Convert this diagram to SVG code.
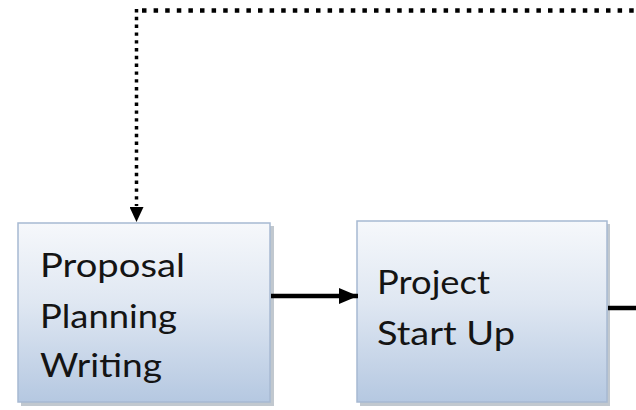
<svg xmlns="http://www.w3.org/2000/svg" width="636" height="410" viewBox="0 0 636 410">
<style>
.box{fill:url(#g);stroke:#a7b9d2;stroke-width:1.5}
.sh{fill:#8e9aa8;opacity:0.55}
.t{font-family:Lato,"Open Sans","DejaVu Sans",sans-serif;font-size:33px;fill:#141414}
.solid{stroke:#000;stroke-width:4.5;fill:none}
</style>
<defs>
<linearGradient id="g" x1="0" y1="0" x2="0" y2="1">
<stop offset="0" stop-color="#f6f8fb"/>
<stop offset="0.45" stop-color="#dfe7f2"/>
<stop offset="1" stop-color="#b5c8e1"/>
</linearGradient>
<marker id="ah" viewBox="0 0 10 10" refX="10" refY="5" markerWidth="19" markerHeight="16" markerUnits="userSpaceOnUse" orient="auto" preserveAspectRatio="none">
<path d="M0,0 L10,5 L0,10 z" fill="#000"/>
</marker>
<marker id="ahd" viewBox="0 0 10 10" refX="10" refY="5" markerWidth="15" markerHeight="14" markerUnits="userSpaceOnUse" orient="auto" preserveAspectRatio="none">
<path d="M0,0 L10,5 L0,10 z" fill="#000"/>
</marker>
</defs>
<rect width="636" height="410" fill="#fff"/>
<g id="n1">
<rect class="sh" x="21" y="226" width="253" height="180"/>
<rect class="box" x="18" y="223" width="252" height="179"/>
<text class="t" x="40" y="277" textLength="145" lengthAdjust="spacingAndGlyphs">Proposal</text>
<text class="t" x="40" y="328" textLength="137" lengthAdjust="spacingAndGlyphs">Planning</text>
<text class="t" x="40" y="377" textLength="122" lengthAdjust="spacingAndGlyphs">Writing</text>
</g>
<g id="n2">
<rect class="sh" x="360" y="224" width="250" height="182"/>
<rect class="box" x="357" y="221" width="250" height="181"/>
<text class="t" x="377" y="294" textLength="113" lengthAdjust="spacingAndGlyphs">Project</text>
<text class="t" x="377" y="345" textLength="138" lengthAdjust="spacingAndGlyphs">Start Up</text>
</g>
<g id="connectors">
<line class="solid" x1="271" y1="296" x2="358" y2="296" marker-end="url(#ah)"/>
<line class="solid" x1="608" y1="308" x2="636" y2="308"/>
<line x1="142" y1="10.5" x2="636" y2="10.5" stroke="#000" stroke-width="4.5" stroke-dasharray="4.5 7.1"/>
<line x1="136.5" y1="9" x2="136.5" y2="206" stroke="#000" stroke-width="3.5" stroke-dasharray="3.4 4.4"/>
<line x1="136.5" y1="205" x2="136.5" y2="222" stroke="#000" stroke-width="0.1" marker-end="url(#ahd)"/>
</g>
</svg>
